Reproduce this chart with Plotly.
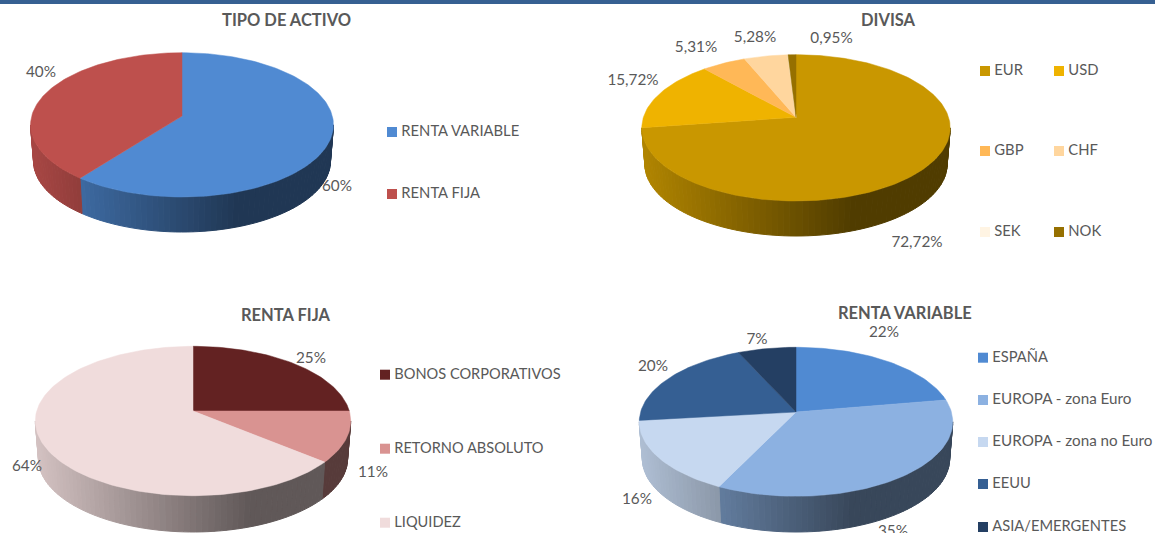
import math
import plotly.graph_objects as go

# ---------- data ----------
activo_cat = ["RENTA VARIABLE", "RENTA FIJA"]
activo_val = [60.5, 39.5]
activo_lab = ["60%", "40%"]
activo_col = ["#508AD2", "#BE504D"]

divisa_cat = ["EUR", "USD", "GBP", "CHF", "SEK", "NOK"]
divisa_val = [72.72, 15.72, 5.31, 5.28, 0.02, 0.95]
divisa_lab = ["72,72%", "15,72%", "5,31%", "5,28%", "", "0,95%"]
divisa_col = ["#C99700", "#EFB300", "#FFB857", "#FFD69E", "#FFF4E3", "#967000"]

fija_cat = ["BONOS CORPORATIVOS", "RETORNO ABSOLUTO", "LIQUIDEZ"]
fija_val = [25, 11, 64]
fija_lab = ["25%", "11%", "64%"]
fija_col = ["#632222", "#D99391", "#F0DCDC"]

variable_cat = ["ESPAÑA", "EUROPA - zona Euro", "EUROPA - zona no Euro", "EEUU", "ASIA/EMERGENTES"]
variable_val = [22.3, 34.9, 16, 20, 6.8]
variable_lab = ["22%", "35%", "16%", "20%", "7%"]
variable_col = ["#508AD2", "#8CB1E1", "#C6D8F0", "#355F93", "#243F63"]

# ---------- layout of each panel (page pixels) ----------
panels = [
    dict(title="TIPO DE ACTIVO", title_xy=(286, 19.5), cat=activo_cat, val=activo_val, lab=activo_lab, col=activo_col,
         left=30.7, right=333.6, top=52.7, apex=(182, 116), front=197, bottom=232,
         lab_xy=[(337, 187), (41, 73)],
         leg_xy=[(392, 132), (392, 194)], leg_size=[14.8, 14.8]),
    dict(title="DIVISA", title_xy=(888.5, 19.5), cat=divisa_cat, val=divisa_val, lab=divisa_lab, col=divisa_col,
         left=642, right=950.4, top=54.7, apex=(796, 117.3), front=201, bottom=236,
         lab_xy=[(917, 243), (633, 81), (696, 48), (755, 38), (0, 0), (831.5, 39)],
         leg_xy=[(985, 71), (1059, 71), (985, 151), (1059, 151), (985, 232), (1059, 232)], leg_size=[14.8] * 6),
    dict(title="RENTA FIJA", title_xy=(286, 314.5), cat=fija_cat, val=fija_val, lab=fija_lab, col=fija_col,
         left=35.6, right=351, top=346.3, apex=(193, 411), front=495.7, bottom=532,
         lab_xy=[(311, 359), (373, 473), (27, 467)],
         leg_xy=[(385, 374.7), (385, 448.7), (385, 522.7)], leg_size=[14.6, 14.6, 14.6]),
    dict(title="RENTA VARIABLE", title_xy=(905, 312.5), cat=variable_cat, val=variable_val, lab=variable_lab, col=variable_col,
         left=639.7, right=953.2, top=347.3, apex=(796, 412), front=496.3, bottom=532,
         lab_xy=[(884, 333), (893, 532), (637, 500), (653, 367), (757, 340)],
         leg_xy=[(983, 357.7), (983, 400), (983, 442), (983, 484), (983, 527)],
         leg_size=[14.7, 15.2, 15.2, 14.7, 14.7]),
]

TEXT = "#595959"
FONT = "Lato"
STEP = 2.0


def hex_rgb(h):
    return tuple(int(h[i:i + 2], 16) for i in (1, 3, 5))


def shade(h, f):
    r, g, b = hex_rgb(h)
    return f"rgb({r * f:.0f},{g * f:.0f},{b * f:.0f})"


def projector(p):
    ax, ay = p["apex"]
    up = ay - p["top"]
    down = p["front"] - ay
    ratio = down / up
    k = (ratio - 1) / (ratio + 1)
    A = up * (1 + k)
    half = (p["right"] - p["left"]) / 2
    B = half * math.sqrt(1 - k * k)

    def top(th):
        u, v = math.sin(th), math.cos(th)
        s = 1 / (1 + k * v)
        return ax + B * u * s, ay - A * v * s

    f = 0.98
    ay2 = p["bottom"] - f * A / (1 - k)

    def low(th):
        u, v = math.sin(th), math.cos(th)
        s = 1 / (1 + k * v)
        return ax + f * B * u * s, ay2 - f * A * v * s

    return top, low, math.degrees(math.acos(-k))


def arange(a, b, step):
    n = max(1, int(math.ceil((b - a) / step)))
    return [a + (b - a) * i / n for i in range(n + 1)]


def side_factor(t):
    return 0.88 - (0.88 - 0.40) * min(max(t, 0) / 0.68, 1)


fig = go.Figure()

for p in panels:
    top, low, widest = projector(p)
    total = sum(p["val"])
    edges = [0.0]
    for v in p["val"]:
        edges.append(edges[-1] + v / total * 360)
    # side wall: only the part between the two widest points of the rim faces the viewer
    for i, c in enumerate(p["col"]):
        a = max(edges[i], widest)
        b = min(edges[i + 1], 360 - widest)
        if b <= a:
            continue
        pts = arange(a, b, STEP)
        for d0, d1 in zip(pts[:-1], pts[1:]):
            t0, t1 = math.radians(d0), math.radians(d1)
            q = [top(t0), top(t1), low(t1), low(t0), top(t0)]
            tx = ((q[0][0] + q[1][0]) / 2 - p["left"]) / (p["right"] - p["left"])
            col = shade(c, side_factor(tx))
            fig.add_trace(go.Scatter(x=[w[0] for w in q], y=[w[1] for w in q], mode="lines",
                                     fill="toself", fillcolor=col, line=dict(color=col, width=1),
                                     hoverinfo="skip", showlegend=False))
    # top face
    for i, c in enumerate(p["col"]):
        rim = [top(math.radians(d)) for d in arange(edges[i], edges[i + 1], 1.5)]
        q = [p["apex"]] + rim + [p["apex"]]
        fig.add_trace(go.Scatter(x=[w[0] for w in q], y=[w[1] for w in q], mode="lines",
                                 fill="toself", fillcolor=c, line=dict(color=c, width=0.5),
                                 name=p["cat"][i], hoverinfo="name", showlegend=False))
    # value labels
    keep = [i for i, s in enumerate(p["lab"]) if s]
    fig.add_trace(go.Scatter(x=[p["lab_xy"][i][0] for i in keep], y=[p["lab_xy"][i][1] for i in keep],
                             mode="text", text=[p["lab"][i] for i in keep], textposition="middle center",
                             textfont=dict(family=FONT, size=15.3, color=TEXT),
                             hoverinfo="skip", showlegend=False, cliponaxis=False))
    # key: swatches, then their texts
    fig.add_trace(go.Scatter(x=[w[0] for w in p["leg_xy"]], y=[w[1] for w in p["leg_xy"]],
                             mode="markers",
                             marker=dict(symbol="square", size=10, color=p["col"], line=dict(width=0)),
                             hoverinfo="skip", showlegend=False, cliponaxis=False))
    fig.add_trace(go.Scatter(x=[w[0] + 9.3 for w in p["leg_xy"]], y=[w[1] + 0.5 for w in p["leg_xy"]],
                             mode="text", text=p["cat"], textposition="middle right",
                             textfont=dict(family=FONT, size=p["leg_size"], color=TEXT),
                             hoverinfo="skip", showlegend=False, cliponaxis=False))
    # title
    fig.add_annotation(x=p["title_xy"][0], y=p["title_xy"][1], text=f"<b>{p['title']}</b>", showarrow=False,
                       xanchor="center", yanchor="middle",
                       font=dict(family=FONT, size=16.5, color=TEXT))

fig.add_shape(type="rect", x0=0, x1=1155, y0=0, y1=4, fillcolor="#366092", line=dict(width=0), layer="above")

fig.update_layout(
    width=1155, height=533, margin=dict(l=0, r=0, t=0, b=0),
    paper_bgcolor="white", plot_bgcolor="white", showlegend=False,
    xaxis=dict(range=[0, 1155], visible=False, fixedrange=True),
    yaxis=dict(range=[533, 0], visible=False, fixedrange=True),
)
fig.write_html("out.html", config=dict(displayModeBar=False),
               post_script="document.body.style.margin='0';document.body.style.overflow='hidden';")
